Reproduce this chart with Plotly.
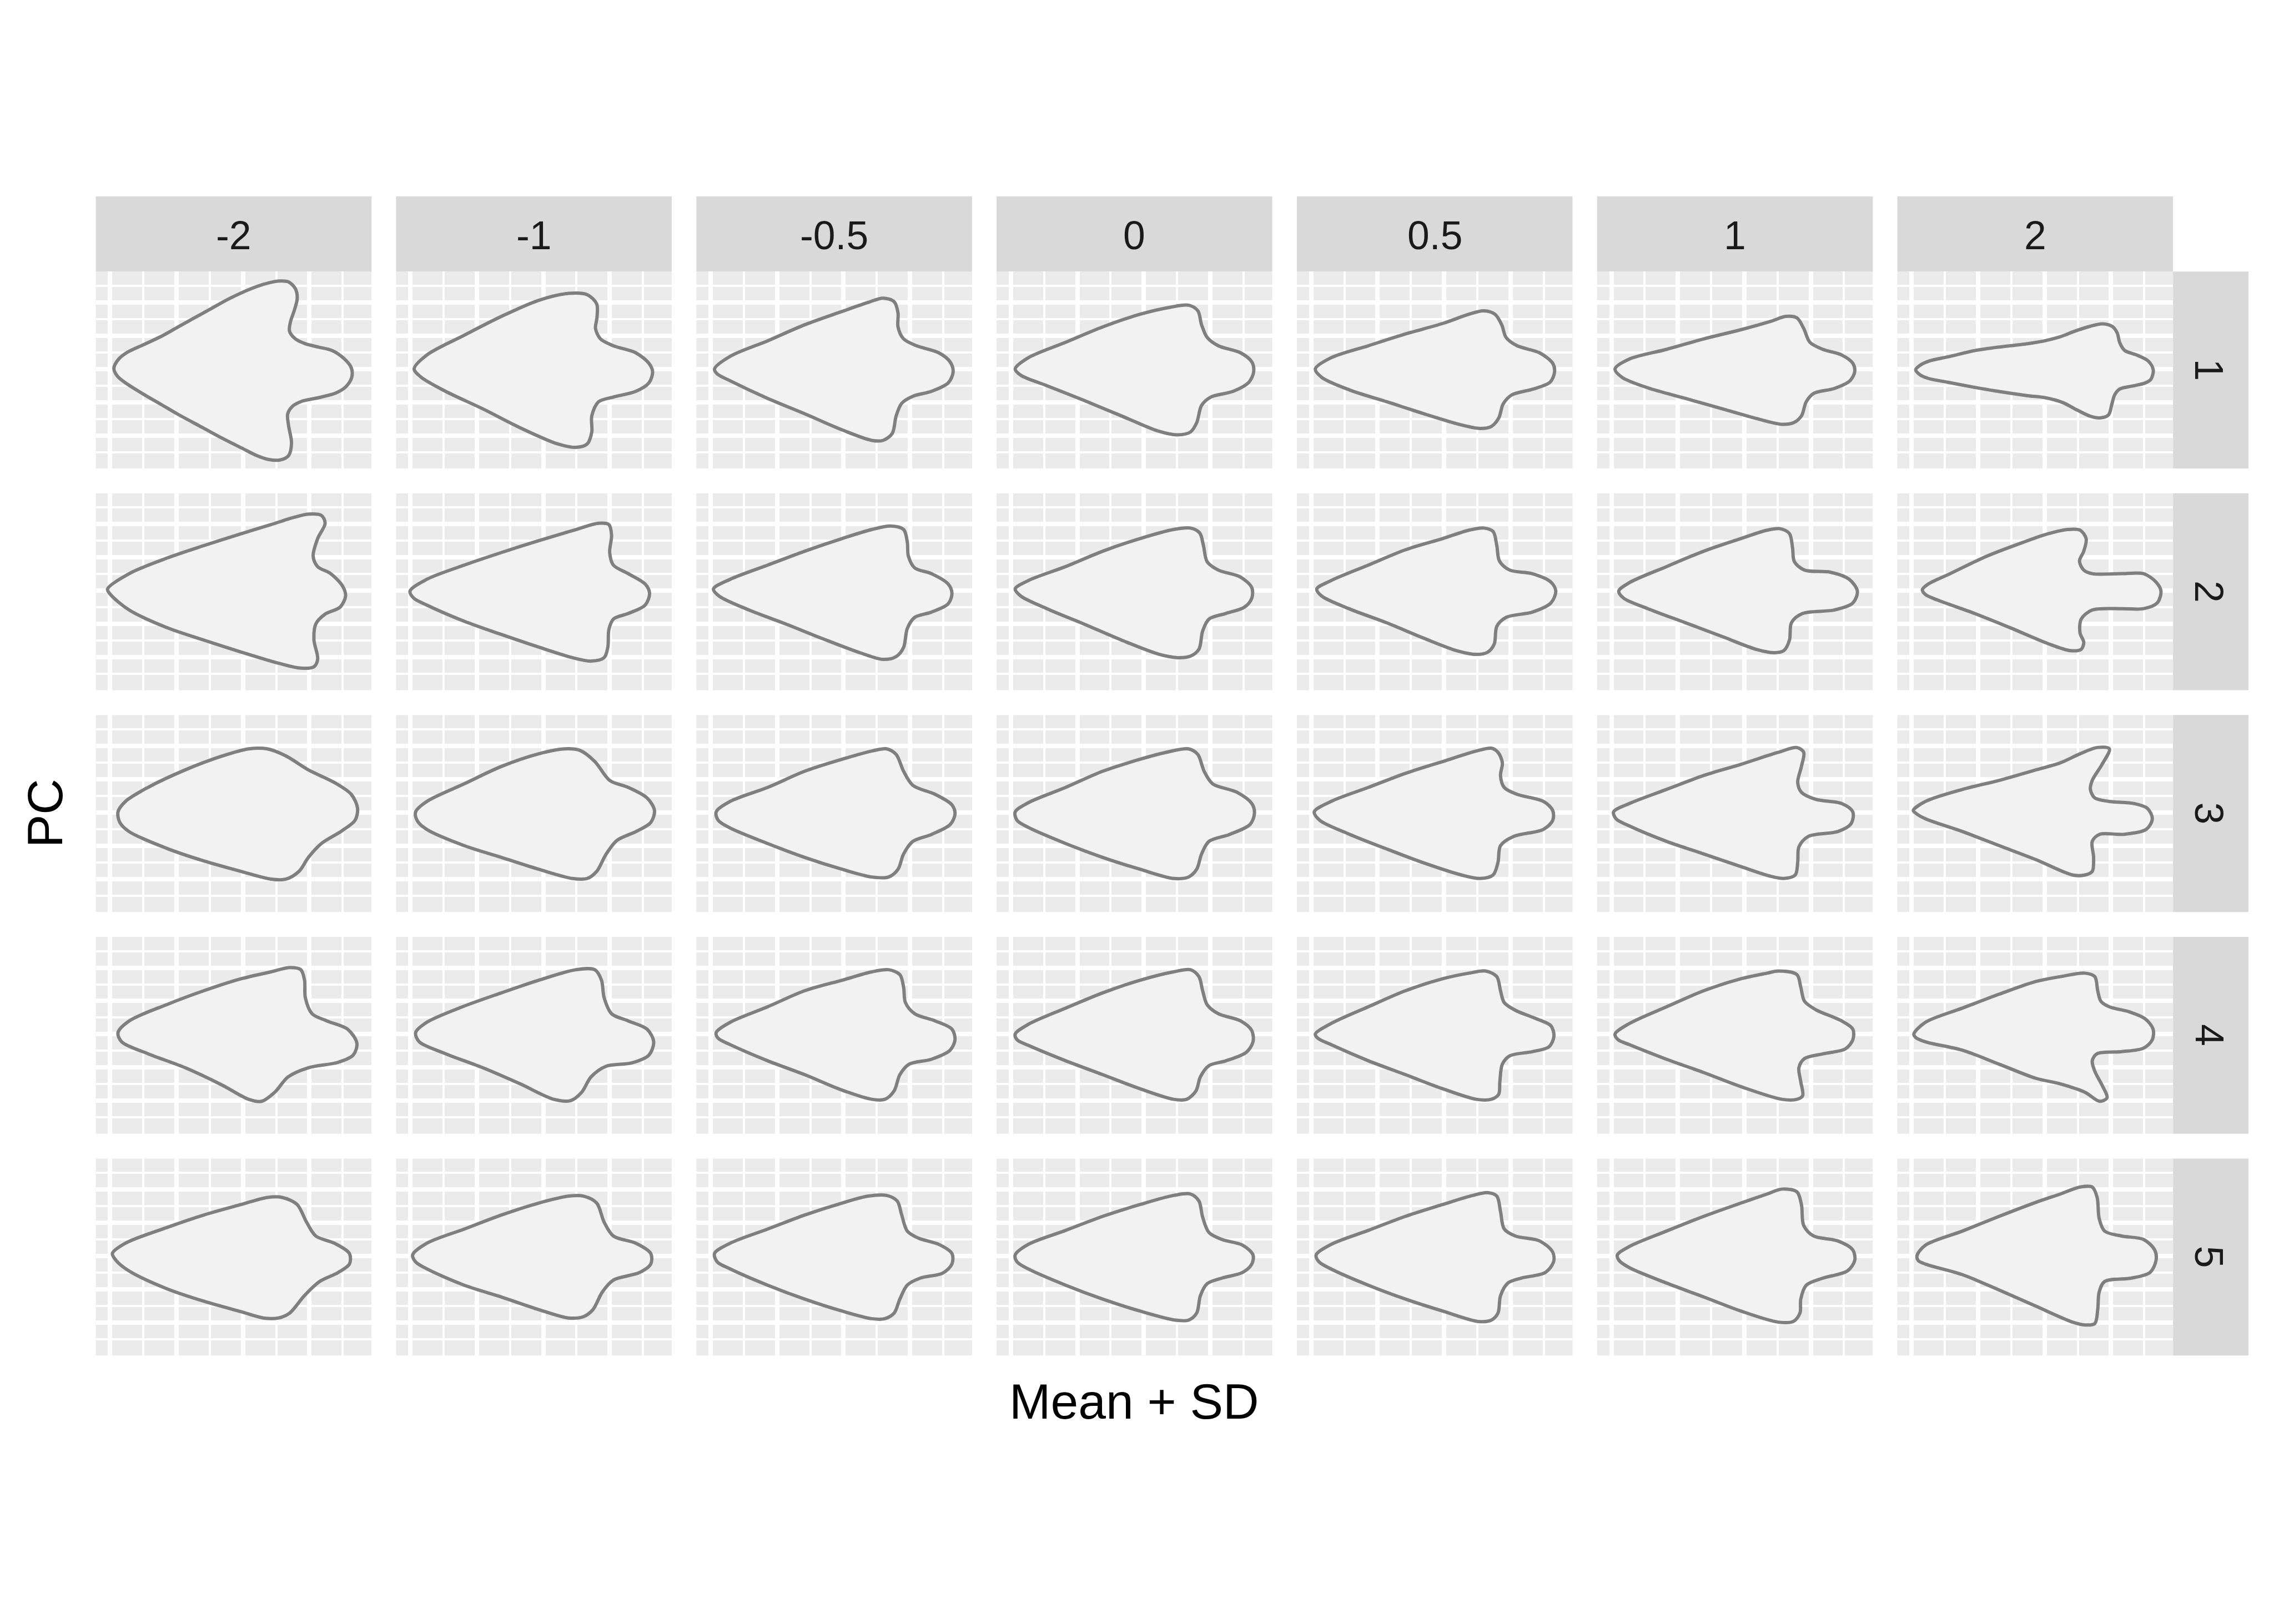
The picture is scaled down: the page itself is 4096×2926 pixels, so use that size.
import plotly.graph_objects as go

# ---------------- data ----------------
SD_LABELS = ["-2", "-1", "-0.5", "0", "0.5", "1", "2"]
PC_LABELS = ["1", "2", "3", "4", "5"]
X_TITLE = "Mean + SD"
Y_TITLE = "PC"

X_MAJOR = [-1.0, -0.5, 0.0, 0.5]
X_MINOR = [-0.75, -0.25, 0.25, 0.75]
Y_MAJOR = [-0.5, -0.25, 0.0, 0.25, 0.5]
Y_MINOR = [-0.625, -0.375, -0.125, 0.125, 0.375, 0.625]
X_RANGE = [-1.108, 0.967]
Y_RANGE = [-0.748, 0.732]

# outlines (x, y), one per PC x SD panel
PC1_M2 = [(-0.972, 0.004), (-0.936, 0.074), (-0.871, 0.125), (-0.754, 0.180), (-0.609, 0.248), (-0.493, 0.313),
          (-0.362, 0.386), (-0.231, 0.458), (-0.100, 0.530), (0.060, 0.603), (0.190, 0.646), (0.278, 0.661),
          (0.343, 0.654), (0.394, 0.603), (0.408, 0.530), (0.387, 0.443), (0.358, 0.357), (0.350, 0.284),
          (0.394, 0.226), (0.467, 0.190), (0.568, 0.164), (0.670, 0.139), (0.757, 0.081), (0.815, 0.009),
          (0.818, -0.064), (0.772, -0.136), (0.699, -0.180), (0.568, -0.216), (0.437, -0.245), (0.372, -0.281),
          (0.336, -0.339), (0.343, -0.426), (0.365, -0.557), (0.343, -0.651), (0.278, -0.684), (0.190, -0.680),
          (0.103, -0.651), (-0.013, -0.593), (-0.158, -0.520), (-0.304, -0.441), (-0.493, -0.339),
          (-0.616, -0.267), (-0.754, -0.187), (-0.871, -0.114), (-0.943, -0.057)]
PC1_M1 = [(-0.972, 0.0), (-0.876, 0.105), (-0.596, 0.253), (-0.315, 0.395), (-0.034, 0.516), (0.191, 0.568),
          (0.331, 0.558), (0.402, 0.489), (0.404, 0.384), (0.393, 0.305), (0.430, 0.226), (0.528, 0.174),
          (0.697, 0.121), (0.795, 0.042), (0.823, -0.021), (0.795, -0.105), (0.697, -0.168), (0.528, -0.211),
          (0.416, -0.247), (0.365, -0.353), (0.365, -0.474), (0.331, -0.563), (0.247, -0.589), (0.107, -0.563),
          (-0.174, -0.442), (-0.455, -0.300), (-0.736, -0.168), (-0.918, -0.063)]
PC1_M05 = [(-0.971, 0.0), (-0.853, 0.095), (-0.572, 0.211), (-0.292, 0.332), (-0.011, 0.432), (0.185, 0.500),
           (0.297, 0.532), (0.381, 0.505), (0.410, 0.421), (0.410, 0.316), (0.452, 0.226), (0.550, 0.174),
           (0.718, 0.121), (0.802, 0.053), (0.825, -0.021), (0.788, -0.105), (0.662, -0.168), (0.522, -0.205),
           (0.438, -0.258), (0.396, -0.353), (0.367, -0.484), (0.297, -0.537), (0.213, -0.537), (-0.011, -0.458),
           (-0.292, -0.337), (-0.572, -0.221), (-0.853, -0.089), (-0.951, -0.037)]
PC1_P0 = [(-0.968, 0.0), (-0.870, 0.084), (-0.589, 0.200), (-0.309, 0.316), (-0.028, 0.411), (0.196, 0.463),
          (0.337, 0.479), (0.407, 0.437), (0.435, 0.332), (0.477, 0.237), (0.561, 0.174), (0.729, 0.121),
          (0.813, 0.053), (0.827, -0.021), (0.791, -0.100), (0.673, -0.168), (0.505, -0.211), (0.435, -0.274),
          (0.398, -0.405), (0.351, -0.474), (0.252, -0.495), (0.112, -0.468), (-0.168, -0.353), (-0.449, -0.237),
          (-0.729, -0.126), (-0.926, -0.047)]
PC1_P05 = [(-0.969, 0.0), (-0.851, 0.084), (-0.571, 0.174), (-0.290, 0.263), (-0.010, 0.342), (0.187, 0.411),
           (0.299, 0.437), (0.383, 0.411), (0.434, 0.332), (0.467, 0.237), (0.551, 0.174), (0.720, 0.121),
           (0.818, 0.042), (0.832, -0.021), (0.798, -0.100), (0.664, -0.153), (0.510, -0.195), (0.445, -0.263),
           (0.412, -0.368), (0.356, -0.432), (0.271, -0.447), (0.131, -0.421), (-0.150, -0.337), (-0.430, -0.247),
           (-0.711, -0.158), (-0.921, -0.063)]
PC1_P1 = [(-0.973, 0.0), (-0.866, 0.074), (-0.586, 0.147), (-0.305, 0.226), (-0.025, 0.295), (0.200, 0.358),
          (0.312, 0.395), (0.396, 0.384), (0.447, 0.305), (0.494, 0.200), (0.592, 0.147), (0.733, 0.105),
          (0.817, 0.042), (0.831, -0.021), (0.795, -0.089), (0.677, -0.147), (0.522, -0.184), (0.466, -0.247),
          (0.430, -0.353), (0.369, -0.405), (0.284, -0.416), (0.116, -0.379), (-0.165, -0.300), (-0.445, -0.221),
          (-0.726, -0.142), (-0.920, -0.063)]
PC1_P2 = [(-0.970, -0.006), (-0.933, 0.030), (-0.867, 0.060), (-0.727, 0.091), (-0.521, 0.139), (-0.371, 0.161),
          (-0.127, 0.190), (0.004, 0.212), (0.116, 0.241), (0.228, 0.284), (0.341, 0.320), (0.434, 0.339),
          (0.509, 0.320), (0.547, 0.270), (0.566, 0.197), (0.603, 0.139), (0.697, 0.103), (0.781, 0.059),
          (0.818, -0.006), (0.800, -0.078), (0.753, -0.107), (0.659, -0.129), (0.566, -0.151), (0.528, -0.194),
          (0.506, -0.267), (0.481, -0.346), (0.416, -0.368), (0.341, -0.354), (0.247, -0.310), (0.135, -0.252),
          (0.004, -0.216), (-0.127, -0.201), (-0.371, -0.165), (-0.539, -0.136), (-0.727, -0.100),
          (-0.876, -0.071), (-0.940, -0.042)]

PC2_M2 = [(-1.020, 0.012), (-0.857, 0.128), (-0.576, 0.244), (-0.295, 0.339), (-0.014, 0.428), (0.211, 0.497),
          (0.379, 0.550), (0.492, 0.576), (0.590, 0.566), (0.618, 0.507), (0.562, 0.392), (0.528, 0.260),
          (0.562, 0.181), (0.660, 0.128), (0.750, 0.034), (0.772, -0.040), (0.730, -0.124), (0.618, -0.176),
          (0.548, -0.250), (0.534, -0.371), (0.562, -0.513), (0.534, -0.571), (0.435, -0.582), (0.267, -0.545),
          (-0.014, -0.461), (-0.295, -0.371), (-0.576, -0.276), (-0.857, -0.145), (-0.997, -0.029)]
PC2_M1 = [(-1.003, -0.003), (-0.876, 0.086), (-0.596, 0.192), (-0.315, 0.287), (-0.034, 0.376), (0.247, 0.460),
          (0.416, 0.507), (0.494, 0.497), (0.514, 0.418), (0.500, 0.287), (0.528, 0.192), (0.640, 0.128),
          (0.767, 0.050), (0.800, -0.019), (0.767, -0.108), (0.640, -0.171), (0.528, -0.213), (0.494, -0.292),
          (0.486, -0.424), (0.458, -0.503), (0.360, -0.529), (0.219, -0.503), (-0.034, -0.424), (-0.315, -0.329),
          (-0.596, -0.229), (-0.876, -0.108), (-0.975, -0.056)]
PC2_M05 = [(-0.979, 0.013), (-0.853, 0.086), (-0.572, 0.192), (-0.292, 0.297), (-0.011, 0.392), (0.213, 0.460),
           (0.353, 0.486), (0.452, 0.460), (0.480, 0.365), (0.488, 0.260), (0.536, 0.171), (0.662, 0.128),
           (0.788, 0.050), (0.816, -0.019), (0.788, -0.098), (0.662, -0.161), (0.536, -0.200), (0.480, -0.284),
           (0.452, -0.426), (0.396, -0.495), (0.297, -0.516), (0.129, -0.468), (-0.151, -0.363), (-0.432, -0.251),
           (-0.712, -0.145), (-0.937, -0.040)]
PC2_P0 = [(-0.968, 0.013), (-0.870, 0.076), (-0.589, 0.181), (-0.309, 0.297), (-0.028, 0.392), (0.224, 0.460),
          (0.351, 0.471), (0.421, 0.434), (0.449, 0.339), (0.477, 0.218), (0.561, 0.155), (0.729, 0.102),
          (0.813, 0.023), (0.813, -0.056), (0.757, -0.124), (0.617, -0.171), (0.491, -0.213), (0.443, -0.303),
          (0.415, -0.440), (0.351, -0.492), (0.252, -0.503), (0.112, -0.477), (-0.168, -0.371), (-0.449, -0.251),
          (-0.729, -0.135), (-0.926, -0.040)]
PC2_P05 = [(-0.958, 0.013), (-0.851, 0.076), (-0.571, 0.192), (-0.290, 0.308), (-0.010, 0.392), (0.187, 0.455),
           (0.299, 0.471), (0.369, 0.445), (0.397, 0.339), (0.417, 0.223), (0.495, 0.155), (0.664, 0.128),
           (0.804, 0.065), (0.841, -0.003), (0.804, -0.092), (0.664, -0.161), (0.468, -0.200), (0.397, -0.268),
           (0.378, -0.400), (0.327, -0.463), (0.243, -0.479), (0.103, -0.453), (-0.150, -0.358), (-0.430, -0.242),
           (-0.711, -0.137), (-0.921, -0.040)]
PC2_P1 = [(-0.945, -0.003), (-0.866, 0.060), (-0.586, 0.181), (-0.305, 0.297), (-0.025, 0.392), (0.172, 0.455),
          (0.270, 0.466), (0.340, 0.429), (0.363, 0.323), (0.377, 0.218), (0.453, 0.155), (0.649, 0.139),
          (0.789, 0.086), (0.851, -0.003), (0.817, -0.092), (0.677, -0.145), (0.439, -0.171), (0.355, -0.240),
          (0.340, -0.371), (0.298, -0.450), (0.228, -0.466), (0.088, -0.440), (-0.165, -0.345), (-0.445, -0.240),
          (-0.726, -0.135), (-0.908, -0.056)]
PC2_P2 = [(-0.920, 0.007), (-0.877, 0.049), (-0.711, 0.128), (-0.434, 0.260), (-0.158, 0.365), (0.027, 0.428),
          (0.175, 0.460), (0.267, 0.455), (0.313, 0.392), (0.295, 0.297), (0.263, 0.223), (0.295, 0.155),
          (0.359, 0.128), (0.580, 0.128), (0.746, 0.128), (0.839, 0.065), (0.876, -0.003), (0.848, -0.092),
          (0.746, -0.135), (0.580, -0.135), (0.359, -0.145), (0.276, -0.213), (0.267, -0.318), (0.295, -0.387),
          (0.276, -0.440), (0.193, -0.450), (0.027, -0.398), (-0.250, -0.282), (-0.527, -0.171), (-0.803, -0.071),
          (-0.896, -0.029)]

PC3_M2 = [(-0.941, 0.004), (-0.885, 0.083), (-0.716, 0.188), (-0.435, 0.320), (-0.154, 0.425), (0.042, 0.478),
          (0.183, 0.478), (0.323, 0.425), (0.492, 0.320), (0.688, 0.225), (0.815, 0.136), (0.862, 0.031),
          (0.843, -0.059), (0.744, -0.138), (0.590, -0.233), (0.492, -0.338), (0.421, -0.443), (0.323, -0.501),
          (0.211, -0.501), (-0.014, -0.443), (-0.295, -0.364), (-0.576, -0.269), (-0.857, -0.144), (-0.927, -0.075)]
PC3_M1 = [(-0.961, 0.004), (-0.876, 0.083), (-0.596, 0.215), (-0.315, 0.346), (-0.034, 0.441), (0.163, 0.478),
          (0.275, 0.467), (0.388, 0.383), (0.500, 0.241), (0.640, 0.188), (0.781, 0.109), (0.837, 0.015),
          (0.809, -0.075), (0.697, -0.144), (0.556, -0.209), (0.472, -0.315), (0.402, -0.443), (0.331, -0.496),
          (0.219, -0.496), (-0.034, -0.427), (-0.315, -0.338), (-0.596, -0.249), (-0.876, -0.128), (-0.947, -0.064)]
PC3_M05 = [(-0.959, 0.004), (-0.853, 0.083), (-0.572, 0.188), (-0.292, 0.310), (-0.011, 0.400), (0.213, 0.462),
           (0.325, 0.478), (0.396, 0.436), (0.452, 0.310), (0.522, 0.204), (0.690, 0.136), (0.816, 0.057),
           (0.839, -0.012), (0.802, -0.091), (0.662, -0.165), (0.522, -0.217), (0.452, -0.312), (0.410, -0.427),
           (0.339, -0.485), (0.213, -0.485), (-0.011, -0.427), (-0.292, -0.338), (-0.572, -0.233), (-0.853, -0.117),
           (-0.943, -0.059)]
PC3_P0 = [(-0.968, 0.004), (-0.870, 0.073), (-0.589, 0.188), (-0.309, 0.310), (-0.028, 0.400), (0.168, 0.452),
          (0.337, 0.478), (0.407, 0.436), (0.454, 0.310), (0.519, 0.215), (0.701, 0.152), (0.813, 0.067),
          (0.833, -0.006), (0.799, -0.091), (0.645, -0.165), (0.491, -0.217), (0.435, -0.312), (0.398, -0.427),
          (0.337, -0.485), (0.224, -0.496), (-0.028, -0.427), (-0.309, -0.338), (-0.589, -0.233), (-0.870, -0.112),
          (-0.954, -0.059)]
PC3_P05 = [(-0.977, 0.004), (-0.851, 0.083), (-0.571, 0.188), (-0.290, 0.294), (-0.010, 0.383), (0.243, 0.462),
           (0.355, 0.483), (0.406, 0.452), (0.439, 0.373), (0.425, 0.278), (0.453, 0.188), (0.551, 0.136),
           (0.748, 0.083), (0.818, 0.015), (0.818, -0.059), (0.748, -0.127), (0.524, -0.180), (0.425, -0.249),
           (0.406, -0.375), (0.369, -0.470), (0.271, -0.496), (0.131, -0.470), (-0.150, -0.380), (-0.430, -0.275),
           (-0.711, -0.164), (-0.935, -0.059)]
PC3_P1 = [(-0.984, 0.004), (-0.866, 0.067), (-0.586, 0.173), (-0.305, 0.278), (-0.025, 0.362), (0.256, 0.452),
          (0.396, 0.488), (0.447, 0.452), (0.430, 0.346), (0.402, 0.225), (0.430, 0.152), (0.537, 0.099),
          (0.733, 0.067), (0.817, 0.004), (0.803, -0.085), (0.705, -0.143), (0.481, -0.180), (0.411, -0.259),
          (0.402, -0.375), (0.383, -0.470), (0.298, -0.496), (0.200, -0.480), (-0.025, -0.407), (-0.305, -0.312),
          (-0.586, -0.217), (-0.866, -0.101), (-0.964, -0.049)]
PC3_P2 = [(-0.988, 0.015), (-0.896, 0.083), (-0.619, 0.173), (-0.342, 0.241), (-0.066, 0.320), (0.119, 0.373),
          (0.267, 0.441), (0.396, 0.488), (0.488, 0.478), (0.433, 0.362), (0.359, 0.241), (0.345, 0.173),
          (0.378, 0.109), (0.488, 0.083), (0.673, 0.067), (0.774, 0.031), (0.811, -0.048), (0.765, -0.127),
          (0.599, -0.164), (0.415, -0.164), (0.359, -0.217), (0.369, -0.338), (0.359, -0.443), (0.304, -0.470),
          (0.211, -0.470), (-0.066, -0.354), (-0.342, -0.249), (-0.619, -0.143), (-0.896, -0.048), (-0.969, -0.006)]

PC4_M2 = [(-0.941, 0.012), (-0.857, 0.100), (-0.576, 0.222), (-0.295, 0.327), (-0.014, 0.417), (0.211, 0.469),
          (0.351, 0.501), (0.435, 0.485), (0.463, 0.406), (0.469, 0.275), (0.520, 0.154), (0.632, 0.100),
          (0.787, 0.038), (0.857, -0.067), (0.829, -0.157), (0.716, -0.211), (0.492, -0.252), (0.340, -0.320),
          (0.239, -0.436), (0.140, -0.504), (0.042, -0.489), (-0.154, -0.384), (-0.435, -0.252), (-0.716, -0.146),
          (-0.913, -0.057)]
PC4_M1 = [(-0.961, 0.012), (-0.876, 0.090), (-0.596, 0.211), (-0.315, 0.311), (-0.034, 0.406), (0.247, 0.485),
          (0.388, 0.485), (0.438, 0.406), (0.458, 0.275), (0.514, 0.154), (0.640, 0.100), (0.781, 0.038),
          (0.831, -0.057), (0.795, -0.157), (0.669, -0.215), (0.472, -0.241), (0.360, -0.320), (0.289, -0.436),
          (0.205, -0.499), (0.079, -0.489), (-0.174, -0.373), (-0.455, -0.252), (-0.736, -0.146), (-0.933, -0.057)]
PC4_M05 = [(-0.959, 0.012), (-0.853, 0.090), (-0.572, 0.206), (-0.292, 0.327), (-0.011, 0.406), (0.213, 0.469),
           (0.339, 0.485), (0.424, 0.448), (0.452, 0.354), (0.466, 0.238), (0.536, 0.154), (0.690, 0.100),
           (0.816, 0.038), (0.839, -0.041), (0.802, -0.120), (0.662, -0.188), (0.494, -0.225), (0.424, -0.304),
           (0.381, -0.425), (0.311, -0.489), (0.213, -0.489), (-0.011, -0.420), (-0.292, -0.304), (-0.572, -0.199),
           (-0.853, -0.078), (-0.943, -0.031)]
PC4_P0 = [(-0.968, 0.001), (-0.870, 0.074), (-0.589, 0.196), (-0.309, 0.311), (-0.028, 0.406), (0.224, 0.469),
          (0.351, 0.485), (0.415, 0.433), (0.443, 0.327), (0.477, 0.222), (0.561, 0.154), (0.729, 0.100),
          (0.813, 0.027), (0.822, -0.057), (0.771, -0.136), (0.617, -0.200), (0.491, -0.236), (0.426, -0.320),
          (0.393, -0.425), (0.323, -0.489), (0.224, -0.489), (-0.028, -0.410), (-0.309, -0.304), (-0.589, -0.199),
          (-0.870, -0.083), (-0.954, -0.041)]
PC4_P05 = [(-0.969, 0.001), (-0.851, 0.080), (-0.571, 0.206), (-0.290, 0.327), (-0.010, 0.417), (0.187, 0.459),
           (0.313, 0.475), (0.397, 0.433), (0.425, 0.327), (0.453, 0.238), (0.537, 0.180), (0.692, 0.117),
           (0.804, 0.064), (0.827, -0.015), (0.790, -0.094), (0.664, -0.131), (0.496, -0.162), (0.439, -0.225),
           (0.420, -0.357), (0.411, -0.452), (0.355, -0.489), (0.243, -0.489), (-0.010, -0.410), (-0.290, -0.304),
           (-0.571, -0.199), (-0.851, -0.078), (-0.949, -0.031)]
PC4_P1 = [(-0.973, 0.001), (-0.866, 0.080), (-0.586, 0.206), (-0.305, 0.327), (-0.025, 0.417), (0.172, 0.459),
          (0.256, 0.475), (0.396, 0.448), (0.425, 0.354), (0.453, 0.248), (0.537, 0.185), (0.733, 0.100),
          (0.817, 0.038), (0.817, -0.041), (0.761, -0.110), (0.593, -0.147), (0.453, -0.183), (0.411, -0.252),
          (0.425, -0.357), (0.439, -0.462), (0.396, -0.489), (0.284, -0.489), (-0.025, -0.394), (-0.305, -0.288),
          (-0.586, -0.188), (-0.866, -0.078), (-0.950, -0.041)]
PC4_P2 = [(-0.984, 0.001), (-0.896, 0.090), (-0.619, 0.196), (-0.342, 0.301), (-0.066, 0.396), (0.119, 0.433),
          (0.304, 0.459), (0.378, 0.433), (0.400, 0.327), (0.424, 0.248), (0.488, 0.206), (0.636, 0.169),
          (0.756, 0.117), (0.817, 0.038), (0.811, -0.041), (0.746, -0.104), (0.580, -0.131), (0.396, -0.146),
          (0.359, -0.199), (0.378, -0.278), (0.433, -0.383), (0.470, -0.478), (0.415, -0.504), (0.304, -0.436),
          (0.119, -0.373), (-0.066, -0.331), (-0.342, -0.225), (-0.619, -0.120), (-0.896, -0.057), (-0.969, -0.025)]

PC5_M2 = [(-0.983, 0.019), (-0.885, 0.096), (-0.576, 0.213), (-0.295, 0.308), (-0.014, 0.387), (0.183, 0.440),
          (0.295, 0.440), (0.407, 0.387), (0.478, 0.255), (0.548, 0.150), (0.688, 0.096), (0.801, 0.019),
          (0.801, -0.060), (0.716, -0.124), (0.576, -0.192), (0.463, -0.297), (0.351, -0.429), (0.267, -0.466),
          (0.154, -0.466), (-0.014, -0.419), (-0.295, -0.340), (-0.576, -0.245), (-0.857, -0.113), (-0.955, -0.034)]
PC5_M1 = [(-0.983, 0.008), (-0.876, 0.096), (-0.596, 0.202), (-0.315, 0.308), (-0.034, 0.398), (0.191, 0.450),
          (0.303, 0.450), (0.402, 0.398), (0.458, 0.255), (0.528, 0.150), (0.697, 0.096), (0.809, 0.019),
          (0.809, -0.060), (0.725, -0.124), (0.528, -0.181), (0.444, -0.271), (0.374, -0.403), (0.303, -0.456),
          (0.191, -0.466), (-0.034, -0.403), (-0.315, -0.308), (-0.596, -0.219), (-0.876, -0.097), (-0.961, -0.044)]
PC5_M05 = [(-0.971, 0.019), (-0.853, 0.096), (-0.572, 0.202), (-0.292, 0.308), (-0.011, 0.398), (0.185, 0.450),
           (0.325, 0.455), (0.404, 0.413), (0.438, 0.308), (0.480, 0.187), (0.564, 0.134), (0.718, 0.087),
           (0.816, 0.019), (0.816, -0.060), (0.746, -0.129), (0.578, -0.166), (0.480, -0.219), (0.424, -0.324),
           (0.381, -0.429), (0.311, -0.471), (0.213, -0.471), (-0.011, -0.414), (-0.292, -0.324), (-0.572, -0.219),
           (-0.853, -0.097), (-0.951, -0.044)]
PC5_P0 = [(-0.968, 0.008), (-0.870, 0.087), (-0.589, 0.192), (-0.309, 0.298), (-0.028, 0.387), (0.224, 0.455),
          (0.351, 0.466), (0.415, 0.413), (0.443, 0.292), (0.491, 0.176), (0.589, 0.124), (0.743, 0.082),
          (0.822, 0.008), (0.813, -0.060), (0.743, -0.124), (0.589, -0.166), (0.477, -0.208), (0.426, -0.298),
          (0.398, -0.429), (0.337, -0.482), (0.238, -0.482), (-0.028, -0.414), (-0.309, -0.324), (-0.589, -0.219),
          (-0.870, -0.097), (-0.954, -0.044)]
PC5_P05 = [(-0.963, 0.008), (-0.851, 0.087), (-0.571, 0.192), (-0.290, 0.298), (-0.010, 0.387), (0.215, 0.455),
           (0.327, 0.476), (0.397, 0.450), (0.425, 0.334), (0.453, 0.203), (0.537, 0.150), (0.720, 0.113),
           (0.818, 0.029), (0.824, -0.045), (0.762, -0.124), (0.580, -0.166), (0.481, -0.203), (0.425, -0.298),
           (0.406, -0.429), (0.356, -0.482), (0.257, -0.492), (-0.010, -0.414), (-0.290, -0.324), (-0.571, -0.219),
           (-0.851, -0.097), (-0.941, -0.044)]
PC5_P1 = [(-0.956, 0.008), (-0.866, 0.071), (-0.586, 0.187), (-0.305, 0.298), (-0.025, 0.398), (0.172, 0.466),
          (0.284, 0.503), (0.396, 0.482), (0.430, 0.387), (0.447, 0.229), (0.522, 0.150), (0.705, 0.113),
          (0.817, 0.045), (0.831, -0.034), (0.775, -0.113), (0.593, -0.166), (0.467, -0.219), (0.425, -0.324),
          (0.419, -0.429), (0.369, -0.492), (0.256, -0.497), (-0.025, -0.414), (-0.305, -0.308), (-0.586, -0.203),
          (-0.866, -0.087), (-0.942, -0.034)]
PC5_P2 = [(-0.960, 0.003), (-0.896, 0.082), (-0.619, 0.187), (-0.342, 0.298), (-0.066, 0.403), (0.119, 0.466),
          (0.267, 0.518), (0.359, 0.518), (0.396, 0.439), (0.411, 0.282), (0.452, 0.187), (0.580, 0.150),
          (0.746, 0.124), (0.829, 0.045), (0.839, -0.034), (0.793, -0.124), (0.654, -0.166), (0.452, -0.192),
          (0.411, -0.271), (0.400, -0.403), (0.378, -0.508), (0.304, -0.518), (0.211, -0.497), (-0.066, -0.377),
          (-0.342, -0.256), (-0.619, -0.140), (-0.896, -0.061), (-0.951, -0.034)]

OUTLINE_ROWS = [
    [PC1_M2, PC1_M1, PC1_M05, PC1_P0, PC1_P05, PC1_P1, PC1_P2],
    [PC2_M2, PC2_M1, PC2_M05, PC2_P0, PC2_P05, PC2_P1, PC2_P2],
    [PC3_M2, PC3_M1, PC3_M05, PC3_P0, PC3_P05, PC3_P1, PC3_P2],
    [PC4_M2, PC4_M1, PC4_M05, PC4_P0, PC4_P05, PC4_P1, PC4_P2],
    [PC5_M2, PC5_M1, PC5_M05, PC5_P0, PC5_P05, PC5_P1, PC5_P2],
]

# ---------------- layout geometry (reference pixels, 4200x3000) ----------------
W, H = 4096, 2926
S = 0.975
PANEL_L0, PANEL_STEP_X, PANEL_W = 177.0, 554.7, 509.3
PANEL_T0, PANEL_STEP_Y, PANEL_H = 501.8, 409.8, 363.9
STRIP_TOP = 362.9
RSTRIP_L, RSTRIP_R = 4014.5, 4154.0


def px(xr):
    return xr * S / W


def py(yr):
    return 1 - yr * S / H


FONT = "Arial, Liberation Sans, Helvetica, sans-serif"
BG_PANEL = "#EBEBEB"
STRIP_BG = "#D9D9D9"
FILL = "#F2F2F2"
EDGE = "#7F7F7F"

fig = go.Figure()
layout = dict(
    width=W, height=H, autosize=False,
    margin=dict(l=0, r=0, t=0, b=0, pad=0),
    paper_bgcolor="white", plot_bgcolor=BG_PANEL,
    showlegend=False,
)
shapes = []
annotations = []

for r, pc in enumerate(PC_LABELS):
    top = PANEL_T0 + r * PANEL_STEP_Y
    bot = top + PANEL_H
    for c, sd in enumerate(SD_LABELS):
        i = r * len(SD_LABELS) + c + 1
        left = PANEL_L0 + c * PANEL_STEP_X
        right = left + PANEL_W
        xa = "xaxis" if i == 1 else f"xaxis{i}"
        ya = "yaxis" if i == 1 else f"yaxis{i}"
        xref = "x" if i == 1 else f"x{i}"
        yref = "y" if i == 1 else f"y{i}"
        layout[xa] = dict(
            domain=[px(left), px(right)], range=X_RANGE, anchor=yref,
            showticklabels=False, ticks="", tickmode="array", tickvals=X_MAJOR,
            showgrid=True, gridcolor="white", gridwidth=7.8, zeroline=False, showline=False,
            fixedrange=True,
            minor=dict(tickmode="array", tickvals=X_MINOR, showgrid=True, gridcolor="white",
                       gridwidth=4.2, ticks=""),
        )
        layout[ya] = dict(
            domain=[py(bot), py(top)], range=Y_RANGE, anchor=xref,
            showticklabels=False, ticks="", tickmode="array", tickvals=Y_MAJOR,
            showgrid=True, gridcolor="white", gridwidth=7.8, zeroline=False, showline=False,
            fixedrange=True,
            minor=dict(tickmode="array", tickvals=Y_MINOR, showgrid=True, gridcolor="white",
                       gridwidth=4.2, ticks=""),
        )
        pts = OUTLINE_ROWS[r][c]
        xs = [p[0] for p in pts] + [pts[0][0]]
        ys = [p[1] for p in pts] + [pts[0][1]]
        fig.add_trace(go.Scatter(
            x=xs, y=ys, xaxis=xref, yaxis=yref, mode="lines",
            fill="toself", fillcolor=FILL,
            line=dict(color=EDGE, width=6.0, shape="spline", smoothing=0.9),
            hoverinfo="skip",
        ))

# top strips
for c, sd in enumerate(SD_LABELS):
    left = PANEL_L0 + c * PANEL_STEP_X
    right = left + PANEL_W
    shapes.append(dict(type="rect", xref="paper", yref="paper",
                       x0=px(left), x1=px(right), y0=py(PANEL_T0), y1=py(STRIP_TOP),
                       fillcolor=STRIP_BG, line=dict(width=0), layer="below"))
    annotations.append(dict(text=sd, xref="paper", yref="paper",
                            x=px((left + right) / 2), y=py((STRIP_TOP + PANEL_T0) / 2 + 3),
                            xanchor="center", yanchor="middle", showarrow=False,
                            font=dict(family=FONT, size=71.5, color="#1A1A1A")))

# right strips
for r, pc in enumerate(PC_LABELS):
    top = PANEL_T0 + r * PANEL_STEP_Y
    bot = top + PANEL_H
    shapes.append(dict(type="rect", xref="paper", yref="paper",
                       x0=px(RSTRIP_L), x1=px(RSTRIP_R), y0=py(bot), y1=py(top),
                       fillcolor=STRIP_BG, line=dict(width=0), layer="below"))
    annotations.append(dict(text=pc, xref="paper", yref="paper",
                            x=px((RSTRIP_L + RSTRIP_R) / 2 - 3), y=py((top + bot) / 2),
                            xanchor="center", yanchor="middle", showarrow=False, textangle=90,
                            font=dict(family=FONT, size=71.5, color="#1A1A1A")))

# axis titles
annotations.append(dict(text=X_TITLE, xref="paper", yref="paper",
                        x=px(2095.7), y=py(2590), xanchor="center", yanchor="middle",
                        showarrow=False, font=dict(family=FONT, size=89.4, color="black")))
annotations.append(dict(text=Y_TITLE, xref="paper", yref="paper",
                        x=px(84), y=py(1503), xanchor="center", yanchor="middle",
                        showarrow=False, textangle=-90,
                        font=dict(family=FONT, size=89.4, color="black")))

layout["shapes"] = shapes
layout["annotations"] = annotations
fig.update_layout(**layout)
fig.write_html("out.html")
